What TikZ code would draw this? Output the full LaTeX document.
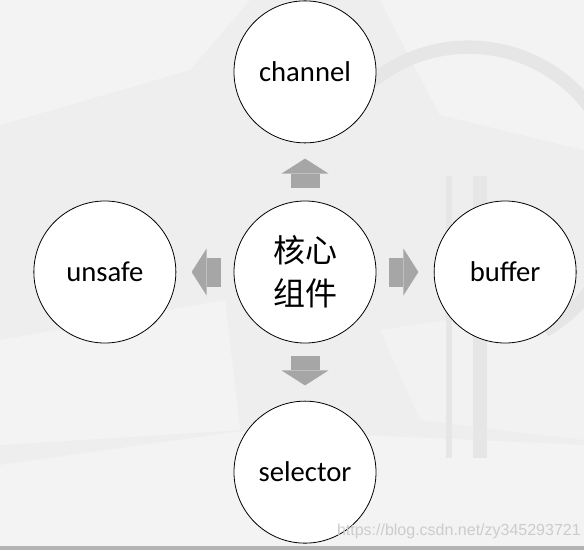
\documentclass[tikz,border=0pt]{standalone}
\usepackage{fontspec}
\setmainfont{Carlito}
\newfontfamily\cjkfont{Noto Sans CJK SC}
\newfontfamily\markfont{Liberation Sans}
\usetikzlibrary{
  arrows.meta,
  positioning
}
\definecolor{arrowgray}{HTML}{A6A6A6}
\definecolor{bggray}{HTML}{EEEEEE}
\definecolor{logogray}{HTML}{E6E6E6}

\begin{document}
\begin{tikzpicture}[
    x=0.75pt, y=-0.75pt,
    node distance=43pt,
    component/.style={circle, draw=black, line width=0.6pt, fill=white, minimum size=106.5pt, inner sep=0pt, font=\fontsize{21.5}{26}\selectfont},
    core/.style={component, align=center, font=\cjkfont\fontsize{24}{32}\selectfont},
    blockarrow/.style={draw=arrowgray, line width=21.75pt, line cap=butt, -{Triangle[length=11.25pt, width=35.25pt, line width=0pt]}, shorten <=9.5pt, shorten >=11.5pt},
    facet/.style={fill=white, draw=none, opacity=0.35},
    logo/.style={draw=logogray, line cap=butt}
  ]
  \useasboundingbox (0,0) rectangle (584,550);

  % Hintergrund
  \begin{scope}
    \clip (0,0) rectangle (584,550);
    \fill[bggray] (0,0) rectangle (584,550);
    \fill[facet] (0,0) -- (250,0) -- (190,70) -- (0,125) -- cycle;
    \fill[facet] (380,0) -- (584,0) -- (584,150) -- (440,115) -- cycle;
    \fill[facet] (0,340) -- (225,300) -- (240,430) -- (0,445) -- cycle;
    \fill[facet] (0,465) -- (250,430) -- (584,445) -- (584,546) -- (0,546) -- cycle;
    \fill[facet, opacity=0.25] (380,330) -- (584,300) -- (584,440) -- (420,420) -- cycle;
    \draw[logo, line width=10pt] (373,81) arc[start angle=231, end angle=420, radius=152];
    \draw[logo, line width=5pt] (449,176) -- (449,458);
    \draw[logo, line width=10pt] (480,176) -- (480,458);
    \fill[arrowgray!85] (0,546) rectangle (584,550);
  \end{scope}

  % Knoten
  \node (core) [core] at (305,272) {核心\\组件};
  \node (channel) [component, above=of core] {channel};
  \node (unsafe) [component, left=of core] {unsafe};
  \node (buffer) [component, right=of core] {buffer};
  \node (selector) [component, below=of core] {selector};

  % Pfeile
  \draw [blockarrow] (core) -- (channel);
  \draw [blockarrow] (core) -- (unsafe);
  \draw [blockarrow] (core) -- (buffer);
  \draw [blockarrow] (core) -- (selector);

  % Wasserzeichen
  \node (mark) [anchor=east, text=white!80!black, font=\markfont\fontsize{12}{14}\selectfont, inner sep=0pt] at (581,531) {https://blog.csdn.net/zy345293721};

\end{tikzpicture}
\end{document}
